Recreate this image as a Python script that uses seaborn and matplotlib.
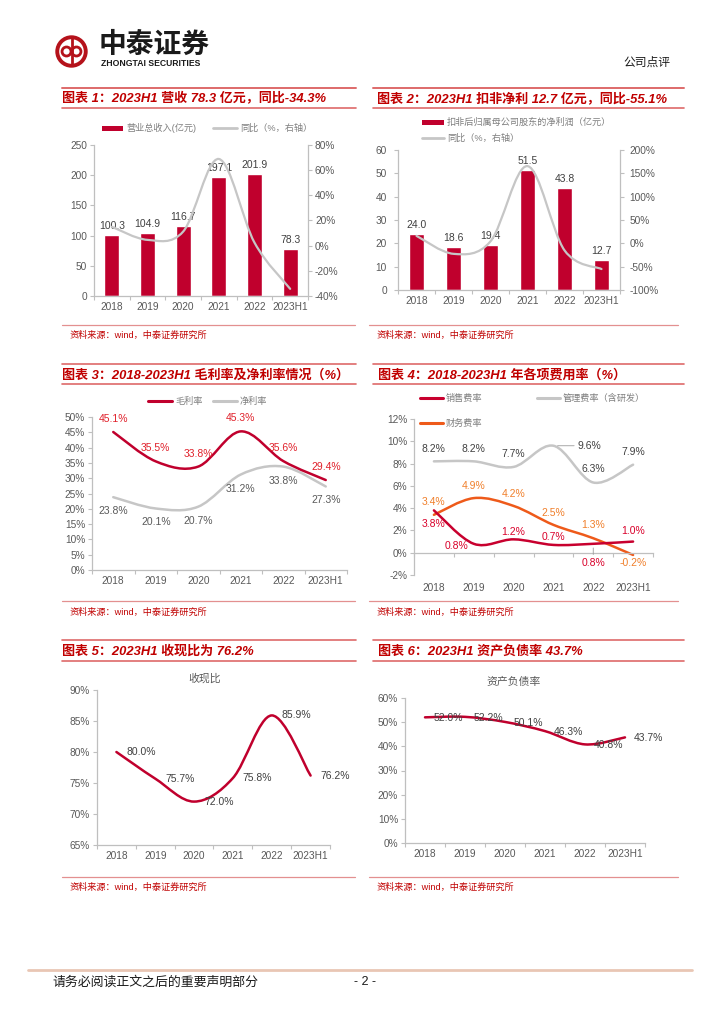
import numpy as np
import pandas as pd
import matplotlib
matplotlib.use("Agg")
import matplotlib.pyplot as plt
import seaborn as sns
from matplotlib.path import Path
from matplotlib.patches import PathPatch, Circle, Rectangle
from matplotlib.lines import Line2D

# ---------------- data ----------------
years = ["2018", "2019", "2020", "2021", "2022", "2023H1"]
revenue = [100.3, 104.9, 116.7, 197.1, 201.9, 78.3]
revenue_yoy = [15.0, 4.6, 11.2, 68.9, 2.4, -34.3]
np_ded = [24.0, 18.6, 19.4, 51.5, 43.8, 12.7]
np_ded_yoy = [16.0, -22.5, 4.3, 165.5, -15.0, -55.1]
gross_margin = [45.1, 35.5, 33.8, 45.3, 35.6, 29.4]
net_margin = [23.8, 20.1, 20.7, 31.2, 33.8, 27.3]
sales_rate = [3.8, 0.8, 1.2, 0.7, 0.8, 1.0]
admin_rate = [8.2, 8.2, 7.7, 9.6, 6.3, 7.9]
fin_rate = [3.4, 4.9, 4.2, 2.5, 1.3, -0.2]
cash_ratio = [80.0, 75.7, 72.0, 75.8, 85.9, 76.2]
debt_ratio = [52.0, 52.2, 50.1, 46.3, 40.8, 43.7]

titles = [
    "图表 1：2023H1 营收 78.3 亿元，同比-34.3%",
    "图表 2：2023H1 扣非净利 12.7 亿元，同比-55.1%",
    "图表 3：2018-2023H1 毛利率及净利率情况（%）",
    "图表 4：2018-2023H1 年各项费用率（%）",
    "图表 5：2023H1 收现比为 76.2%",
    "图表 6：2023H1 资产负债率 43.7%",
]
source_text = "资料来源：wind，中泰证券研究所"

# ---------------- style ----------------
sns.set_theme(style="white")
plt.rcParams["font.family"] = ["Liberation Sans", "Noto Sans CJK SC", "DejaVu Sans"]
plt.rcParams["axes.unicode_minus"] = False

RED = "#C0002D"
GRAY_LINE = "#C6C6C6"
ORANGE = "#EE5A1A"
ORANGE_LBL = "#F07F2A"
AX_GRAY = "#BFBFBF"
TICK_C = "#595959"
LBL_C = "#404040"
TITLE_C = "#C00000"
RULE_C = "#DE6A6A"
LEG_C = "#7F7F7F"

W, H = 724, 1024
fig = plt.figure(figsize=(W / 100, H / 100), dpi=100)
fig.patch.set_facecolor("white")


def box(l, t, r, b):
    return [l / W, 1 - b / H, (r - l) / W, (b - t) / H]


def ftext(x, y, s, **kw):
    kw.setdefault("va", "center")
    fig.text(x / W, 1 - y / H, s, **kw)


def fline(x0, x1, y, color, lw):
    fig.add_artist(Line2D([x0 / W, x1 / W], [1 - y / H, 1 - y / H],
                          color=color, lw=lw, transform=fig.transFigure))


def leg_line(x0, x1, y, color, lw=2.0):
    fline(x0, x1, y, color, lw)


def leg_rect(x0, x1, y, color, h=5):
    fig.add_artist(Rectangle((x0 / W, 1 - (y + h / 2) / H), (x1 - x0) / W, h / H,
                             color=color, transform=fig.transFigure, lw=0))


def smooth(ax, ys, color, lw):
    p = np.column_stack([np.arange(len(ys)), ys]).astype(float)
    n = len(p)
    verts = [p[0]]
    codes = [Path.MOVETO]
    for i in range(n - 1):
        p0 = p[i - 1] if i > 0 else p[i]
        p3 = p[i + 2] if i + 2 < n else p[i + 1]
        c1 = p[i] + (p[i + 1] - p0) / 6.0
        c2 = p[i + 1] - (p3 - p[i]) / 6.0
        verts += [c1, c2, p[i + 1]]
        codes += [Path.CURVE4] * 3
    patch = PathPatch(Path(verts, codes), fill=False, edgecolor=color, lw=lw,
                      capstyle="round", joinstyle="round")
    ax.add_patch(patch)


def pct(v):
    return f"{v:.0f}%"


def style_ax(ax, ylim, yticks, fmt, xpad=4, ylabelsize=7.3):
    ax.set_xlim(-0.5, 5.5)
    ax.set_ylim(*ylim)
    ax.set_yticks(yticks)
    ax.set_yticklabels([fmt(v) for v in yticks])
    ax.set_xticks(range(6))
    ax.set_xticklabels(years)
    ax.set_xticks(np.arange(-0.5, 6.0, 1.0), minor=True)
    ax.tick_params(axis="x", which="major", length=0, pad=xpad,
                   labelsize=7.3, labelcolor=TICK_C)
    ax.tick_params(axis="x", which="minor", length=3, width=0.8, color=AX_GRAY,
                   direction="out", bottom=True)
    ax.tick_params(axis="y", length=3, width=0.8, color=AX_GRAY, direction="out",
                   labelsize=ylabelsize, labelcolor=TICK_C, pad=2, left=True)
    for s in ["top", "right"]:
        ax.spines[s].set_visible(False)
    for s in ["left", "bottom"]:
        ax.spines[s].set_color(AX_GRAY)
        ax.spines[s].set_linewidth(0.9)
    ax.set_facecolor("none")
    ax.grid(False)
    ax.set_xlabel("")
    ax.set_ylabel("")


def label(ax, x, y, s, dx, dy, color, ha="center", va="center", size=7.5, arrow=False):
    kw = {}
    if arrow:
        kw["arrowprops"] = dict(arrowstyle="-", color="#9A9A9A", lw=0.6,
                                shrinkA=0, shrinkB=3)
    ax.annotate(s, (x, y), xytext=(dx * 0.72, dy * 0.72), textcoords="offset points",
                ha=ha, va=va, fontsize=size, color=color, **kw)


# ---------------- header ----------------
lax = fig.add_axes(box(55, 35, 88, 68))
lax.set_xlim(-1.1, 1.1)
lax.set_ylim(-1.1, 1.1)
lax.set_aspect("equal")
lax.axis("off")
lax.add_patch(Circle((0, 0), 0.95, fill=False, lw=2.8, color="#B5121B"))
lax.add_patch(Circle((-0.33, 0.0), 0.3, fill=False, lw=2.0, color="#B5121B"))
lax.add_patch(Circle((0.33, 0.0), 0.3, fill=False, lw=2.0, color="#B5121B"))
lax.plot([0, 0], [-0.92, 0.92], color="#B5121B", lw=2.0)

ftext(99, 45, "中泰证券", fontsize=20, fontweight="bold", color="#1A1A1A",
      family=["Noto Sans CJK SC"])
ftext(101, 63, "ZHONGTAI SECURITIES", fontsize=6.2, fontweight="bold", color="#1A1A1A")
ftext(670, 62, "公司点评", fontsize=8.5, color="#1A1A1A", ha="right",
      family=["Noto Sans CJK SC"])

# title boxes / rules
for y in [88, 108, 364, 384, 640, 661]:
    lw = 1.4 if y == 88 else 1.2
    fline(62, 356, y, RULE_C, lw)
    fline(373, 684, y, RULE_C, lw)

tkw = dict(fontsize=9.4, fontweight="bold", style="italic", color=TITLE_C)
ftext(62, 99, titles[0], **tkw)
ftext(377, 99, titles[1], **tkw)
ftext(62, 375, titles[2], **tkw)
ftext(378, 375, titles[3], **tkw)
ftext(62, 651, titles[4], **tkw)
ftext(378, 651, titles[5], **tkw)

# source rules
for y_rule, y_txt in [(325, 335), (601, 612), (877, 887)]:
    fline(62, 355, y_rule, "#E39090", 0.9)
    fline(369, 678, y_rule, "#E39090", 0.9)
    ftext(70, y_txt, source_text, fontsize=6.6, color="#C00000")
    ftext(377, y_txt, source_text, fontsize=6.6, color="#C00000")

# footer
fline(28, 692, 970, "#E9C6B4", 2.0)
ftext(52, 982, "请务必阅读正文之后的重要声明部分", fontsize=9.3, color="#1A1A1A",
      family=["Noto Sans CJK SC"])
ftext(365, 982, "- 2 -", fontsize=9, color="#1A1A1A", ha="center")

# ---------------- chart 1 ----------------
ax1 = fig.add_axes(box(94, 145, 308, 296))
df1 = pd.DataFrame({"year": years, "value": revenue})
sns.barplot(data=df1, x="year", y="value", color=RED, saturation=1, width=0.42,
            ax=ax1, zorder=2)
style_ax(ax1, (0, 250), [0, 50, 100, 150, 200, 250], lambda v: f"{v:.0f}")
for i, v in enumerate(revenue):
    label(ax1, i, v, f"{v:.1f}", 0, 4, LBL_C, va="bottom")
ax1b = ax1.twinx()
ax1b.set_ylim(-40, 80)
ax1b.set_yticks([-40, -20, 0, 20, 40, 60, 80])
ax1b.set_yticklabels([pct(v) for v in [-40, -20, 0, 20, 40, 60, 80]])
ax1b.tick_params(axis="y", length=3, width=0.8, color=AX_GRAY, labelsize=7.3,
                 labelcolor=TICK_C, pad=2, right=True)
for s in ["top", "left", "bottom"]:
    ax1b.spines[s].set_visible(False)
ax1b.spines["right"].set_color(AX_GRAY)
ax1b.spines["right"].set_linewidth(0.9)
ax1b.grid(False)
smooth(ax1b, revenue_yoy, GRAY_LINE, 1.6)
leg_rect(102, 123, 128, RED)
ftext(126, 128, "营业总收入(亿元)", fontsize=6.6, color=LEG_C)
leg_line(213, 237, 128, GRAY_LINE, 2.0)
ftext(240, 128, "同比（%，右轴）", fontsize=6.6, color=LEG_C)

# ---------------- chart 2 ----------------
ax2 = fig.add_axes(box(398, 150, 620, 290))
df2 = pd.DataFrame({"year": years, "value": np_ded})
sns.barplot(data=df2, x="year", y="value", color=RED, saturation=1, width=0.42,
            ax=ax2, zorder=2)
style_ax(ax2, (0, 60), [0, 10, 20, 30, 40, 50, 60], lambda v: f"{v:.0f}")
ax2.tick_params(axis="y", pad=5)
for i, v in enumerate(np_ded):
    label(ax2, i, v, f"{v:.1f}", 0, 4, LBL_C, va="bottom")
ax2b = ax2.twinx()
t2 = [-100, -50, 0, 50, 100, 150, 200]
ax2b.set_ylim(-100, 200)
ax2b.set_yticks(t2)
ax2b.set_yticklabels([pct(v) for v in t2])
ax2b.tick_params(axis="y", length=3, width=0.8, color=AX_GRAY, labelsize=7.3,
                 labelcolor=TICK_C, pad=4, right=True)
for s in ["top", "left", "bottom"]:
    ax2b.spines[s].set_visible(False)
ax2b.spines["right"].set_color(AX_GRAY)
ax2b.spines["right"].set_linewidth(0.9)
ax2b.grid(False)
smooth(ax2b, np_ded_yoy, GRAY_LINE, 1.6)
leg_rect(422, 444, 122, RED)
ftext(447, 122, "扣非后归属母公司股东的净利润（亿元）", fontsize=6.6, color=LEG_C)
leg_line(422, 444, 138, GRAY_LINE, 2.0)
ftext(447, 138, "同比（%，右轴）", fontsize=6.6, color=LEG_C)

# ---------------- chart 3 ----------------
ax3 = fig.add_axes(box(92, 417, 347, 570))
style_ax(ax3, (0, 50), list(range(0, 51, 5)), pct)
smooth(ax3, net_margin, GRAY_LINE, 1.8)
smooth(ax3, gross_margin, RED, 1.8)
for i, v in enumerate(gross_margin):
    label(ax3, i, v, f"{v:.1f}%", 0, 13, "#E0202A")
for i, v in enumerate(net_margin):
    label(ax3, i, v, f"{v:.1f}%", 0, -14, "#595959")
leg_line(148, 172, 401, RED, 2.2)
ftext(175, 401, "毛利率", fontsize=6.6, color=LEG_C)
leg_line(213, 237, 401, GRAY_LINE, 2.2)
ftext(240, 401, "净利率", fontsize=6.6, color=LEG_C)

# ---------------- chart 4 ----------------
ax4 = fig.add_axes(box(414, 419, 653, 575))
style_ax(ax4, (-2, 12), list(range(-2, 13, 2)), pct, xpad=22)
ax4.spines["bottom"].set_position(("data", 0))
smooth(ax4, admin_rate, GRAY_LINE, 1.8)
smooth(ax4, fin_rate, ORANGE, 1.8)
smooth(ax4, sales_rate, "#C8002E", 1.8)
s_off = [(0, -14), (-17, -2), (0, 7), (0, 8), (0, -19), (0, 11)]
for i, v in enumerate(sales_rate):
    dx, dy = s_off[i]
    label(ax4, i, v, f"{v:.1f}%", dx, dy, "#D9002A", arrow=(i == 4))
a_off = [(0, 12), (0, 12), (0, 13), (24, 0), (0, 14), (0, 13)]
for i, v in enumerate(admin_rate):
    dx, dy = a_off[i]
    label(ax4, i, v, f"{v:.1f}%", dx, dy, "#404040",
          ha=("left" if i == 3 else "center"), arrow=(i == 3))
f_off = [(0, 13), (0, 12), (0, 12), (0, 12), (0, 13), (0, -8)]
for i, v in enumerate(fin_rate):
    dx, dy = f_off[i]
    label(ax4, i, v, f"{v:.1f}%", dx, dy, ORANGE_LBL)
leg_line(420, 443, 398, "#C8002E", 2.2)
ftext(446, 398, "销售费率", fontsize=6.6, color=LEG_C)
leg_line(537, 560, 398, GRAY_LINE, 2.2)
ftext(563, 398, "管理费率（含研发）", fontsize=6.6, color=LEG_C)
leg_line(420, 443, 423, ORANGE, 2.2)
ftext(446, 423, "财务费率", fontsize=6.6, color=LEG_C)

# ---------------- chart 5 ----------------
ax5 = fig.add_axes(box(97, 690, 330, 845))
style_ax(ax5, (65, 90), list(range(65, 91, 5)), pct)
smooth(ax5, cash_ratio, RED, 1.8)
for i, v in enumerate(cash_ratio):
    label(ax5, i, v, f"{v:.1f}%", 10, 0, LBL_C, ha="left")
ftext(205, 678, "收现比", fontsize=7.8, color="#595959", ha="center")

# ---------------- chart 6 ----------------
ax6 = fig.add_axes(box(405, 698, 645, 843))
style_ax(ax6, (0, 60), list(range(0, 61, 10)), pct)
smooth(ax6, debt_ratio, RED, 1.8)
for i, v in enumerate(debt_ratio):
    label(ax6, i, v, f"{v:.1f}%", 9, -1, LBL_C, ha="left")
ftext(514, 682, "资产负债率", fontsize=7.8, color="#595959", ha="center")

fig.savefig("out.png", dpi=100, facecolor="white")
